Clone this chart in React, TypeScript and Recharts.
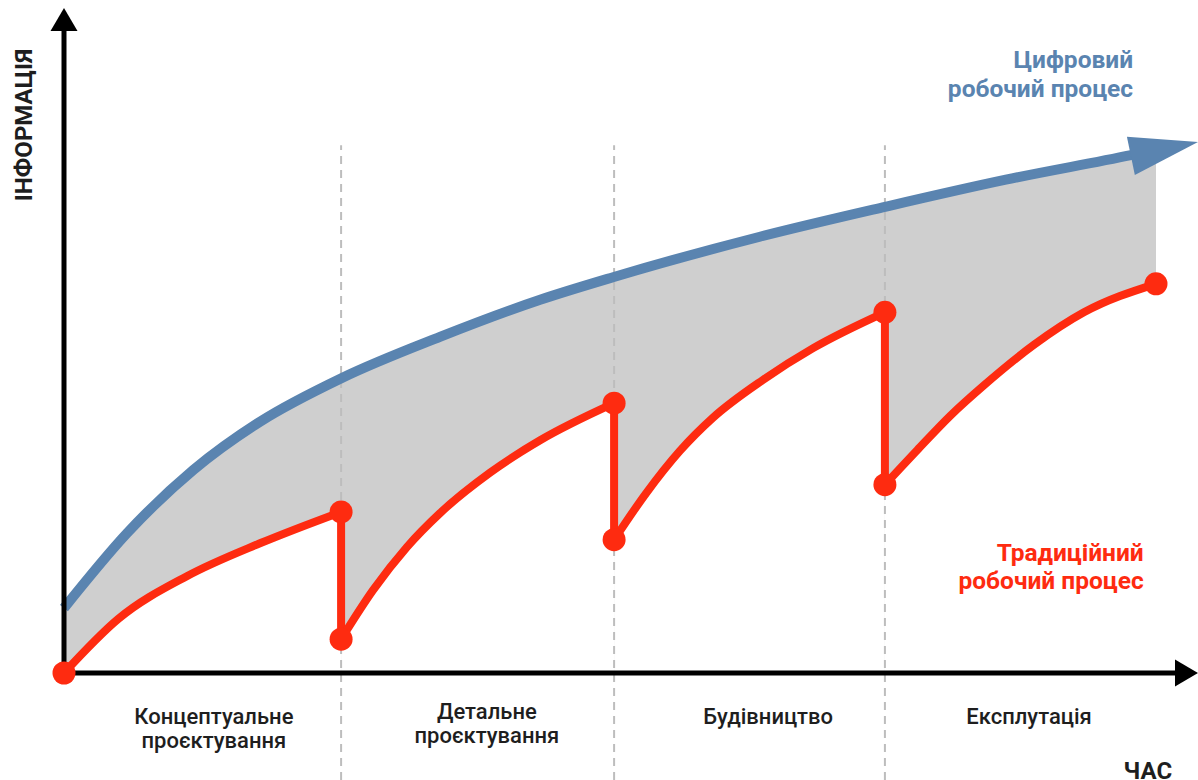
import { ComposedChart, Line, Area, XAxis, YAxis, ReferenceLine, ReferenceDot } from 'recharts'

const W = 1198
const H = 780
// plot origin sits at (64, 673); one phase = 273px, one info unit = 6.63px
const X_PX = 273
const Y_PX = 6.63
const X_MIN = -64 / X_PX
const X_MAX = (W - 64) / X_PX
const Y_MIN = -(H - 673) / Y_PX
const Y_MAX = 673 / Y_PX

const BLUE = '#5a84b0'
const RED = '#fe2b10'
const FILL = '#cfcfcf'
const GRID = '#bdbdbd'
const INK = '#1e1e1e'
const FONT = 'Roboto, "Noto Sans", sans-serif'

// digital workflow
const BLUE_X = [0, 0.231, 0.473, 0.718, 1.018, 1.377, 1.744, 2.011, 2.549, 3.007, 3.45, 3.908, 4.0]
const BLUE_Y = [9.8, 21.1, 30.6, 37.9, 44.5, 50.7, 56.3, 59.7, 65.8, 70.3, 74.4, 78.1, 78.9]
const BLUE_HEAD_X = [3.908, 4.154]
const BLUE_HEAD_Y = [78.0, 80.1]

// traditional workflow, one run per phase
const RED1_X = [0, 0.2, 0.45, 0.72, 1.015]
const RED1_Y = [0, 8.2, 14.6, 19.6, 24.3]
const RED2_X = [1.015, 1.132, 1.256, 1.377, 1.56, 1.744, 2.015]
const RED2_Y = [5.1, 12.5, 19.0, 24.1, 30.2, 35.1, 40.7]
const RED3_X = [2.015, 2.132, 2.256, 2.377, 2.56, 2.744, 3.007]
const RED3_Y = [20.1, 27.1, 33.5, 38.5, 44.2, 49.0, 54.4]
const RED4_X = [3.007, 3.125, 3.249, 3.37, 3.553, 3.736, 4.0]
const RED4_Y = [28.4, 33.6, 38.9, 43.4, 49.5, 54.4, 58.7]

const PHASE_BOUNDS = [1.015, 2.015, 3.007]
const PHASE_LABELS = [
  ['Концептуальне', 'проєктування'],
  ['Детальне', 'проєктування'],
  ['Будівництво'],
  ['Експлутація'],
]
const PHASE_LABEL_X = [0.549, 1.549, 2.579, 3.535]

const rows = (xs: number[], ys: number[]) => xs.map((x, i) => ({ x, y: ys[i] }))

const blueRows = rows(BLUE_X, BLUE_Y)
const redRuns = [rows(RED1_X, RED1_Y), rows(RED2_X, RED2_Y), rows(RED3_X, RED3_Y), rows(RED4_X, RED4_Y)]
const drops = redRuns.slice(0, -1).map((run, i) => [run[run.length - 1], redRuns[i + 1][0]])

const arrow = (color: string, width: number, headLen: number | null, halfW: number) => (p: any) => {
  const { x1, y1, x2, y2 } = p
  const dx = x2 - x1
  const dy = y2 - y1
  const len = Math.hypot(dx, dy) || 1
  const ux = dx / len
  const uy = dy / len
  const hl = headLen == null ? len : headLen
  const bx = x2 - ux * hl
  const by = y2 - uy * hl
  const nx = -uy * halfW
  const ny = ux * halfW
  return (
    <g>
      {width > 0 && <line x1={x1} y1={y1} x2={bx + ux} y2={by + uy} stroke={color} strokeWidth={width} />}
      <polygon points={`${x2},${y2} ${bx + nx},${by + ny} ${bx - nx},${by - ny}`} fill={color} />
    </g>
  )
}

const textShape = (lines: string[], o: { anchor: string, color: string, size: number, weight: number, lh: number, rotate?: boolean }) => (p: any) => (
  <text
    x={p.cx}
    y={p.cy}
    textAnchor={o.anchor}
    fill={o.color}
    fontSize={o.size}
    fontWeight={o.weight}
    fontFamily={FONT}
    transform={o.rotate ? `rotate(-90 ${p.cx} ${p.cy})` : undefined}
  >
    {lines.map((l, i) => (
      <tspan key={i} x={p.cx} dy={i === 0 ? 0 : o.lh}>{l}</tspan>
    ))}
  </text>
)

const endDots = (n: number) => (p: any) => {
  if (p.index === 0 || p.index === n - 1) {
    return <circle key={`d-${p.index}`} cx={p.cx} cy={p.cy} r={11.5} fill={RED} />
  }
  return <g key={`d-${p.index}`} />
}

export default function App() {
  return (
    <div style={{ position: 'absolute', left: 0, top: 0, width: W, height: H, background: '#fff' }}>
      <ComposedChart width={W} height={H} data={blueRows} margin={{ top: 0, right: 0, bottom: 0, left: 0 }}>
        <XAxis type="number" dataKey="x" domain={[X_MIN, X_MAX]} allowDataOverflow hide />
        <YAxis type="number" domain={[Y_MIN, Y_MAX]} allowDataOverflow hide />

        {/* gap between the workflows */}
        <Area data={blueRows} dataKey="y" type="monotone" baseValue={0} stroke="none" fill={FILL} fillOpacity={1} isAnimationActive={false} dot={false} activeDot={false} zIndex={100} />
        {redRuns.map((run, i) => (
          <Area key={`w${i}`} data={run} dataKey="y" type="monotone" baseValue={0} stroke="none" fill="#fff" fillOpacity={1} isAnimationActive={false} dot={false} activeDot={false} zIndex={110} />
        ))}

        {PHASE_BOUNDS.map((b) => (
          <ReferenceLine key={`g${b}`} segment={[{ x: b, y: Y_MIN }, { x: b, y: 79.6 }]} stroke={GRID} strokeWidth={2} strokeDasharray="8 6" ifOverflow="visible" zIndex={120} />
        ))}

        <Line data={blueRows} dataKey="y" type="monotone" stroke={BLUE} strokeWidth={10} dot={false} activeDot={false} isAnimationActive={false} zIndex={200} />
        <ReferenceLine
          segment={[{ x: BLUE_HEAD_X[0], y: BLUE_HEAD_Y[0] }, { x: BLUE_HEAD_X[1], y: BLUE_HEAD_Y[1] }]}
          ifOverflow="visible"
          shape={arrow(BLUE, 0, null, 19.5)}
          zIndex={210}
        />

        {/* axes */}
        <ReferenceLine segment={[{ x: 0, y: -0.4 }, { x: 0, y: 100.3 }]} ifOverflow="visible" shape={arrow('#000', 5, 23, 13.5)} zIndex={220} />
        <ReferenceLine segment={[{ x: -0.01, y: 0 }, { x: X_MAX, y: 0 }]} ifOverflow="visible" shape={arrow('#000', 5, 23, 13.5)} zIndex={220} />

        {drops.map((d, i) => (
          <Line key={`v${i}`} data={d} dataKey="y" type="linear" stroke={RED} strokeWidth={8} dot={false} activeDot={false} isAnimationActive={false} zIndex={300} />
        ))}
        {redRuns.map((run, i) => (
          <Line key={`r${i}`} data={run} dataKey="y" type="monotone" stroke={RED} strokeWidth={8} dot={endDots(run.length)} activeDot={false} isAnimationActive={false} zIndex={310} />
        ))}

        {/* texts */}
        <ReferenceDot x={3.916} y={91.25} r={0} ifOverflow="visible" zIndex={400}
          shape={textShape(['Цифровий', 'робочий процес'], { anchor: 'end', color: BLUE, size: 24.5, weight: 700, lh: 29 })} />
        <ReferenceDot x={3.955} y={16.9} r={0} ifOverflow="visible" zIndex={400}
          shape={textShape(['Традиційний', 'робочий процес'], { anchor: 'end', color: RED, size: 24.5, weight: 700, lh: 28 })} />
        <ReferenceDot x={4.059} y={-15.95} r={0} ifOverflow="visible" zIndex={400}
          shape={textShape(['ЧАС'], { anchor: 'end', color: INK, size: 24, weight: 700, lh: 0 })} />
        <ReferenceDot x={-0.117} y={82.65} r={0} ifOverflow="visible" zIndex={400}
          shape={textShape(['ІНФОРМАЦІЯ'], { anchor: 'middle', color: INK, size: 24, weight: 700, lh: 0, rotate: true })} />
        {PHASE_LABELS.map((lines, i) => (
          <ReferenceDot key={`p${i}`} x={PHASE_LABEL_X[i]} y={i === 1 ? -6.94 : -7.7} r={0} ifOverflow="visible" zIndex={400}
            shape={textShape(lines, { anchor: 'middle', color: INK, size: 22, weight: 500, lh: 23.5 })} />
        ))}
      </ComposedChart>
    </div>
  )
}
